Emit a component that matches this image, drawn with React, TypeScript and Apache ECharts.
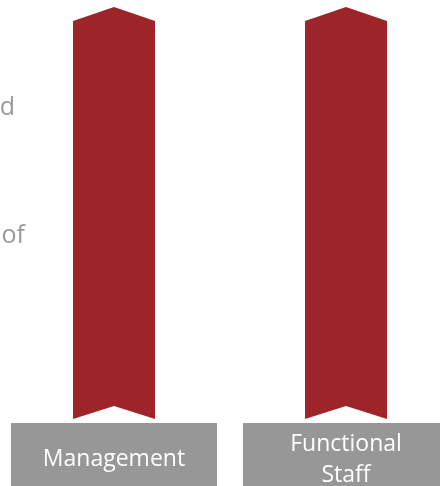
import React, { useEffect, useRef } from "react";
import * as echarts from "echarts";

const categories = ["Management", "Functional Staff"];
const values = [100, 100];
const sideTexts = ["d", "of"];

const RED = "#9D2428";
const GRAY = "#979797";

export default function App() {
  const ref = useRef<HTMLDivElement>(null);
  useEffect(() => {
    if (!ref.current) return;
    const chart = echarts.init(ref.current, undefined, { renderer: "svg" });
    chart.setOption({
      animation: false,
      grid: {
        left: -2,
        right: -22,
        top: 7,
        bottom: 67,
        containLabel: false,
        outerBoundsMode: "none",
      },
      xAxis: {
        type: "category",
        data: categories,
        axisLine: { show: false },
        axisTick: { show: false },
        splitLine: { show: false },
        axisLabel: {
          interval: 0,
          margin: 4,
          backgroundColor: GRAY,
          width: 206,
          padding: [3, 0, 12, 0],
          align: "center",
          color: "#ffffff",
          fontFamily: "Open Sans",
          fontSize: 23,
          formatter: (v: string) => {
            const parts = v.split(" ");
            if (parts.length === 1) return `{big|${v}}`;
            return parts.map((p) => `{small|${p}}`).join("\n");
          },
          rich: {
            big: { lineHeight: 62, fontFamily: "Open Sans", fontSize: 23, color: "#ffffff" },
            small: { lineHeight: 31, fontFamily: "Open Sans", fontSize: 23, color: "#ffffff" },
          },
        },
      },
      yAxis: {
        type: "value",
        min: 0,
        max: 100,
        show: false,
      },
      graphic: [
        {
          type: "text",
          x: 15,
          y: 105,
          style: {
            text: sideTexts[0],
            fill: "#9a9a9a",
            font: "25px 'Open Sans'",
            textAlign: "right",
            textVerticalAlign: "middle",
          },
        },
        {
          type: "text",
          x: 25,
          y: 233,
          style: {
            text: sideTexts[1],
            fill: "#9a9a9a",
            font: "25px 'Open Sans'",
            textAlign: "right",
            textVerticalAlign: "middle",
          },
        },
      ],
      series: [
        {
          type: "custom",
          data: categories.map((c, i) => [i, values[i]]),
          encode: { x: 0, y: 1 },
          renderItem: (params: any, api: any) => {
            const idx = api.value(0);
            const v = api.value(1);
            const top = api.coord([idx, v]);
            const base = api.coord([idx, 0]);
            const band = api.size([1, 0])[0];
            const hw = (band * 82) / 232 / 2;
            const cx = top[0];
            const ty = top[1];
            const by = base[1];
            return {
              type: "polygon",
              shape: {
                points: [
                  [cx - hw, ty + 14],
                  [cx, ty],
                  [cx + hw, ty + 14],
                  [cx + hw, by],
                  [cx, by - 13],
                  [cx - hw, by],
                ],
              },
              style: { fill: RED },
            };
          },
        },
      ],
    });
    return () => chart.dispose();
  }, []);
  return (
    <div
      ref={ref}
      style={{ position: "fixed", left: 0, top: 0, width: 440, height: 486 }}
    />
  );
}
